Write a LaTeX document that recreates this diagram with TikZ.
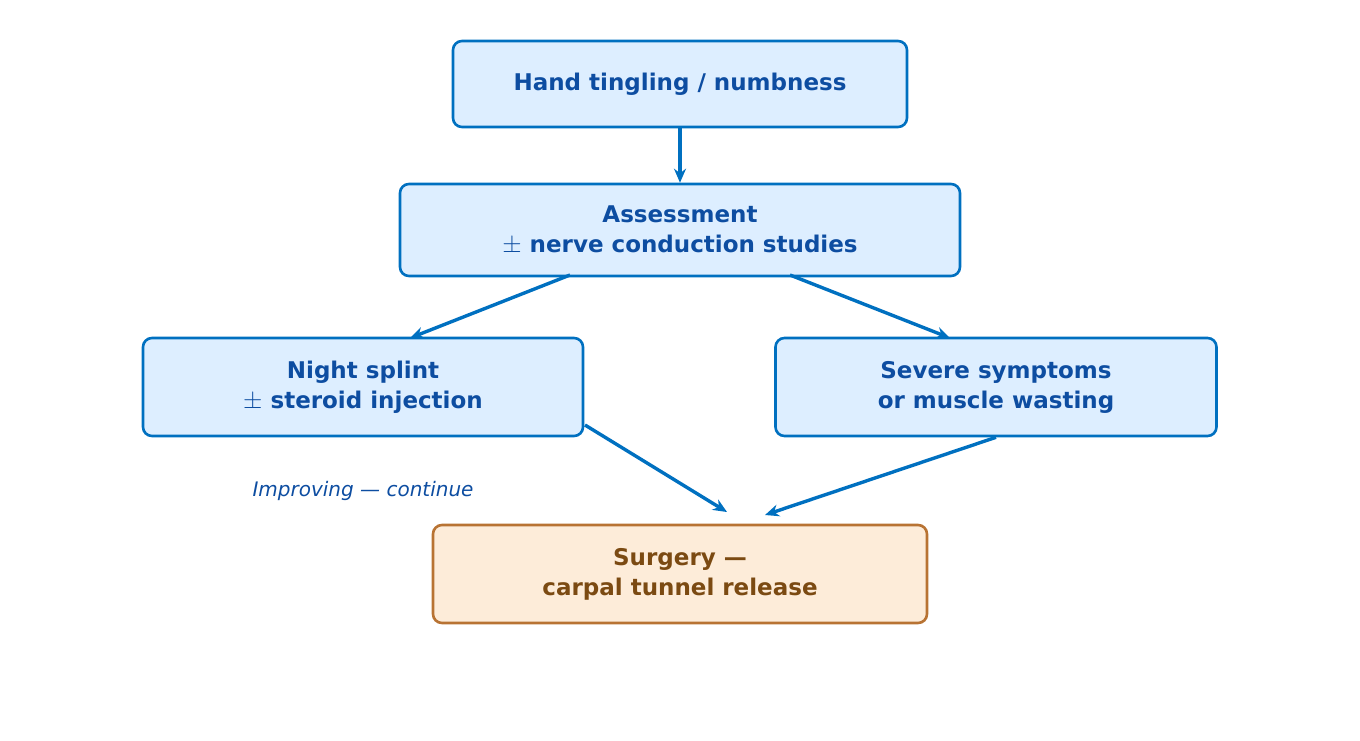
\documentclass[tikz,border=0pt]{standalone}
\usepackage{fontspec}
\setmainfont{DejaVu Sans}
\usetikzlibrary{positioning,arrows.meta}
\definecolor{edgeblue}{HTML}{0070C0}
\definecolor{fillblue}{HTML}{DDEEFF}
\definecolor{textblue}{HTML}{0D4DA1}
\definecolor{edgeorange}{HTML}{B87333}
\definecolor{fillorange}{HTML}{FDECD9}
\definecolor{textbrown}{HTML}{7B4A12}
\tikzstyle{stepbox}=[draw=edgeblue,fill=fillblue,text=textblue,rounded corners=9pt,
  line width=2.6pt,align=center,font=\fontsize{23}{30}\selectfont\bfseries,inner sep=0pt]
\tikzstyle{endbox}=[stepbox,draw=edgeorange,fill=fillorange,text=textbrown]
\tikzstyle{flow}=[-{Stealth[length=14pt,width=12pt]},edgeblue,line width=3.4pt]

\begin{document}
\begin{tikzpicture}[x=1pt,y=-1pt]
  \useasboundingbox (0,0) rectangle (1360,740);

  \node[stepbox,minimum width=454pt,minimum height=86pt] (hand) at (680,84) {Hand tingling / numbness};
  \node[stepbox,minimum width=560pt,minimum height=92pt] (assess) at (680,230) {Assessment\\$\pm$ nerve conduction studies};
  \node[stepbox,minimum width=440pt,minimum height=98pt] (splint) at (363,387) {Night splint\\$\pm$ steroid injection};
  \node[stepbox,minimum width=441pt,minimum height=98pt] (severe) at (996,387) {Severe symptoms\\or muscle wasting};
  \node[endbox,minimum width=494pt,minimum height=98pt] (surgery) at (680,574) {Surgery —\\carpal tunnel release};
  \node[text=textblue,font=\fontsize{20}{24}\selectfont\itshape] (improve) at (363,491) {Improving — continue};

  \coordinate (sa) at (570,275);
  \coordinate (sb) at (790,275);
  \coordinate (ta) at (410,338);
  \coordinate (tb) at (950,338);
  \coordinate (sc) at (585,425);
  \coordinate (tc) at (727,512);
  \coordinate (td) at (765,515);

  \draw[flow] (hand) -- (assess);
  \draw[flow] (sa) -- (ta);
  \draw[flow] (sb) -- (tb);
  \draw[flow] (sc) -- (tc);
  \draw[flow] (severe.south) -- (td);
\end{tikzpicture}
\end{document}
